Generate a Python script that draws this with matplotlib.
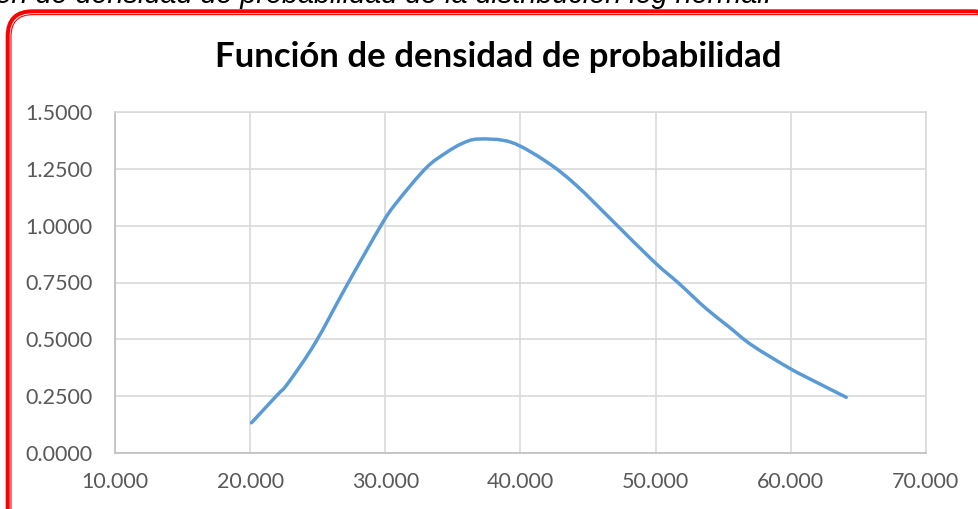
import numpy as np
import matplotlib.pyplot as plt
from matplotlib.patches import FancyBboxPatch, PathPatch
from matplotlib.path import Path

# valores
x_vals = [20.1, 22.0, 22.8, 24.8, 27.1, 29.7, 30.8, 33.0, 34.5, 35.7, 36.9, 39.3,
          41.9, 44.1, 47.0, 49.9, 51.7, 53.7, 55.4, 57.1, 59.9, 61.8, 64.1]
y_vals = [0.133, 0.255, 0.307, 0.483, 0.732, 1.003, 1.099, 1.253, 1.321, 1.362, 1.381, 1.367,
          1.282, 1.179, 1.010, 0.840, 0.747, 0.637, 0.556, 0.475, 0.373, 0.314, 0.245]

x_ticks = [10, 20, 30, 40, 50, 60, 70]
y_ticks = [0.0, 0.25, 0.5, 0.75, 1.0, 1.25, 1.5]

titulo = "Función de densidad de probabilidad"
caption = "Función de densidad de probabilidad de la distribución log normal."


def smooth_path(xs, ys):
    # línea suavizada tipo Excel (bezier catmull-rom)
    pts = np.column_stack([xs, ys])
    verts = [pts[0]]
    codes = [Path.MOVETO]
    for i in range(len(pts) - 1):
        p0 = pts[max(i - 1, 0)]
        p1 = pts[i]
        p2 = pts[i + 1]
        p3 = pts[min(i + 2, len(pts) - 1)]
        verts += [p1 + (p2 - p0) / 6, p2 - (p3 - p1) / 6, p2]
        codes += [Path.CURVE4] * 3
    return Path(verts, codes)


plt.rcParams['font.family'] = ['Lato', 'DejaVu Sans']

fig = plt.figure(figsize=(9.79, 5.09), dpi=100)

# capa de fondo en pixeles para el marco rojo
bg = fig.add_axes([0, 0, 1, 1])
bg.set_xlim(0, 979)
bg.set_ylim(509, 0)
bg.axis('off')
bg.add_patch(FancyBboxPatch((7.7, 11.3), 990, 530, boxstyle="round,pad=0,rounding_size=25",
                            fill=False, edgecolor='#ff0000', linewidth=2.9))
bg.add_patch(FancyBboxPatch((11.0, 14.6), 990, 530, boxstyle="round,pad=0,rounding_size=22",
                            fill=False, edgecolor='#ff0000', linewidth=0.8))
bg.text(772, 3, caption, fontsize=20.8, style='italic', family=['Liberation Sans', 'DejaVu Sans'],
        ha='right', va='baseline', color='black')
bg.text(498, 67, titulo, fontsize=25, fontweight='bold',
        ha='center', va='baseline', color='black')

ax = fig.add_axes([115 / 979, 1 - 453 / 509, (926 - 115) / 979, (453 - 112) / 509])
ax.add_patch(PathPatch(smooth_path(x_vals, y_vals), fill=False, edgecolor='#5B9BD5',
                       linewidth=2.5, capstyle='round', zorder=3))

ax.set_xlim(10, 70)
ax.set_ylim(0, 1.5)
ax.set_xticks(x_ticks)
ax.set_yticks(y_ticks)
ax.set_xticklabels([f"{v:.3f}" for v in x_ticks])
ax.set_yticklabels([f"{v:.4f}" for v in y_ticks])
ax.tick_params(axis='both', length=0, labelsize=15.5, labelcolor='#595959')
ax.tick_params(axis='x', pad=14)
ax.tick_params(axis='y', pad=16)
ax.grid(True, color='#d9d9d9', linewidth=1.2)
ax.set_axisbelow(True)
for s in ax.spines.values():
    s.set_color('#d9d9d9')
    s.set_linewidth(1.2)
ax.spines['left'].set_color('#bfbfbf')
ax.spines['bottom'].set_color('#bfbfbf')

fig.savefig('out.png', dpi=100)
